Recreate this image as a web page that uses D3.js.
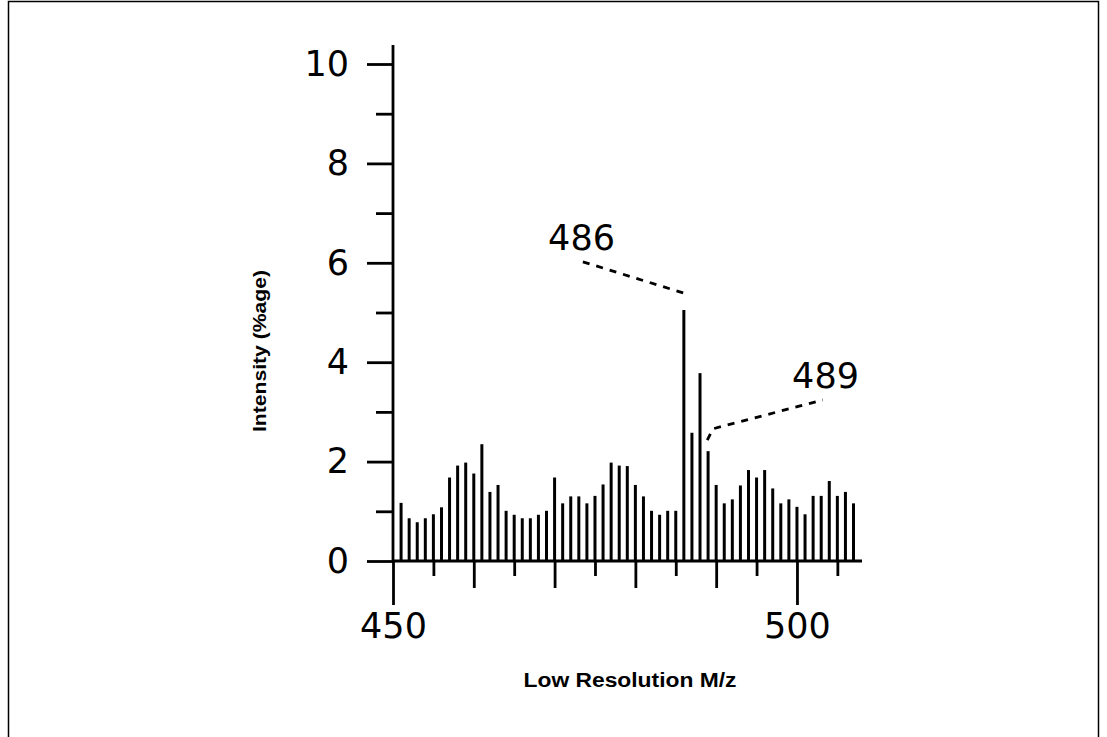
<!DOCTYPE html>
<html>
<head>
<meta charset="utf-8">
<script src="https://cdn.jsdelivr.net/npm/d3@7"></script>
<style>
	body { margin: 0; background: #fff; }
	text { font-family: "Liberation Sans", Arial, sans-serif; fill: #000; }
</style>
</head>
<body>
<script>

let width = 1107;
let height = 737;

// m/z values and their intensity (%age)
let masses = [451, 452, 453, 454, 455, 456, 457, 458, 459, 460,
	461, 462, 463, 464, 465, 466, 467, 468, 469, 470,
	471, 472, 473, 474, 475, 476, 477, 478, 479, 480,
	481, 482, 483, 484, 485, 486, 487, 488, 489, 490,
	491, 492, 493, 494, 495, 496, 497, 498, 499, 500,
	501, 502, 503, 504, 505, 506, 507];
let intensities = [1.17, 0.86, 0.78, 0.86, 0.94, 1.08, 1.68, 1.92, 1.98, 1.76,
	2.35, 1.39, 1.53, 1.01, 0.93, 0.86, 0.86, 0.93, 1.01, 1.68,
	1.16, 1.30, 1.30, 1.16, 1.31, 1.54, 1.98, 1.92, 1.91, 1.53,
	1.30, 1.01, 0.93, 1.01, 1.01, 5.05, 2.58, 3.78, 2.21, 1.53,
	1.16, 1.24, 1.52, 1.83, 1.68, 1.83, 1.46, 1.16, 1.24, 1.09,
	0.94, 1.31, 1.31, 1.61, 1.31, 1.39, 1.16];

let yMajorTicks = [0, 2, 4, 6, 8, 10];
let yMinorTicks = [1, 3, 5, 7, 9];
let xLabelTicks = [450, 500];
let xMidTicks = [460, 470, 480, 490];
let xShortTicks = [455, 465, 475, 485, 495, 505];

// peak labels with their dashed leaders, in data units
let peakLabels = [
	{text: "486", x: 469.2, y: 6.26, leader: [[473.5, 6.02], [486.0, 5.39]]},
	{text: "489", x: 499.4, y: 3.48, leader: [[488.9, 2.43], [489.6, 2.66], [503.2, 3.24]]}
];

let numFont = "'DejaVu Sans', sans-serif";

let xScale = d3.scaleLinear()
	.range([393, 862])
	.domain([450, 508.05]);

let yScale = d3.scaleLinear()
	.range([561, 64])
	.domain([0, 10]);

let svg = d3.select("body")
	.append("svg")
		.attr("width", width)
		.attr("height", height);

// frame
svg.append("path")
	.attr("d", "M8.5," + height + "V1.5H1098.5V" + height)
	.style("fill", "none")
	.style("stroke", "#000")
	.style("stroke-width", "1.5px");

// bars
svg.selectAll("line.bar")
	.data(masses)
	.enter().append("line")
	.attr("class", "bar")
	.attr("x1", d => xScale(d))
	.attr("x2", d => xScale(d))
	.attr("y1", yScale(0))
	.attr("y2", (d, i) => yScale(intensities[i]))
	.style("stroke", "#000")
	.style("stroke-width", "3px");

// y axis
let yAxis = d3.axisLeft(yScale)
	.tickValues(yMajorTicks)
	.tickSize(26)
	.tickPadding(18)
	.tickFormat(d3.format("d"));

let gy = svg.append("g")
	.attr("class", "y axis")
	.attr("transform", "translate(393,0)")
	.call(yAxis);
gy.select(".domain").attr("d", "M0," + yScale(0) + "V45");

svg.append("g")
	.attr("class", "y axis minor")
	.attr("transform", "translate(393,0)")
	.call(d3.axisLeft(yScale).tickValues(yMinorTicks).tickSize(17).tickFormat(""))
	.select(".domain").remove();

// x axis
let xAxis = d3.axisBottom(xScale)
	.tickValues(xLabelTicks)
	.tickSize(44)
	.tickPadding(8)
	.tickFormat(d3.format("d"));

let gx = svg.append("g")
	.attr("class", "x axis")
	.attr("transform", "translate(0," + yScale(0) + ")")
	.call(xAxis);
gx.select(".domain").attr("d", "M" + xScale(450) + ",0H" + xScale(508.05));

svg.append("g")
	.attr("class", "x axis mid")
	.attr("transform", "translate(0," + yScale(0) + ")")
	.call(d3.axisBottom(xScale).tickValues(xMidTicks).tickSize(27).tickFormat(""))
	.select(".domain").remove();

svg.append("g")
	.attr("class", "x axis short")
	.attr("transform", "translate(0," + yScale(0) + ")")
	.call(d3.axisBottom(xScale).tickValues(xShortTicks).tickSize(15).tickFormat(""))
	.select(".domain").remove();

svg.selectAll(".axis path, .axis line")
	.style("stroke", "#000")
	.style("stroke-width", "2.8px");

svg.selectAll(".axis text")
	.style("font-family", numFont)
	.style("font-size", "35px")
	.style("fill", "#000");

// peak labels
let leader = d3.line()
	.x(d => xScale(d[0]))
	.y(d => yScale(d[1]));

peakLabels.forEach(p => {
	svg.append("text")
		.attr("x", xScale(p.x))
		.attr("y", yScale(p.y))
		.style("font-family", numFont)
		.style("font-size", "35px")
		.text(p.text);

	svg.append("path")
		.attr("d", leader(p.leader))
		.style("fill", "none")
		.style("stroke", "#000")
		.style("stroke-width", "2.8px")
		.style("stroke-dasharray", "7,7");
});

// axis titles
svg.append("text")
	.attr("x", 630)
	.attr("y", 687)
	.attr("text-anchor", "middle")
	.attr("textLength", 213)
	.attr("lengthAdjust", "spacingAndGlyphs")
	.style("font-size", "20px")
	.style("font-weight", "bold")
	.text("Low Resolution M/z");

svg.append("text")
	.attr("transform", "translate(266,351) rotate(-90)")
	.attr("text-anchor", "middle")
	.attr("textLength", 162)
	.attr("lengthAdjust", "spacingAndGlyphs")
	.style("font-size", "18px")
	.style("font-weight", "bold")
	.text("Intensity (%age)");

</script>
</body>
</html>
